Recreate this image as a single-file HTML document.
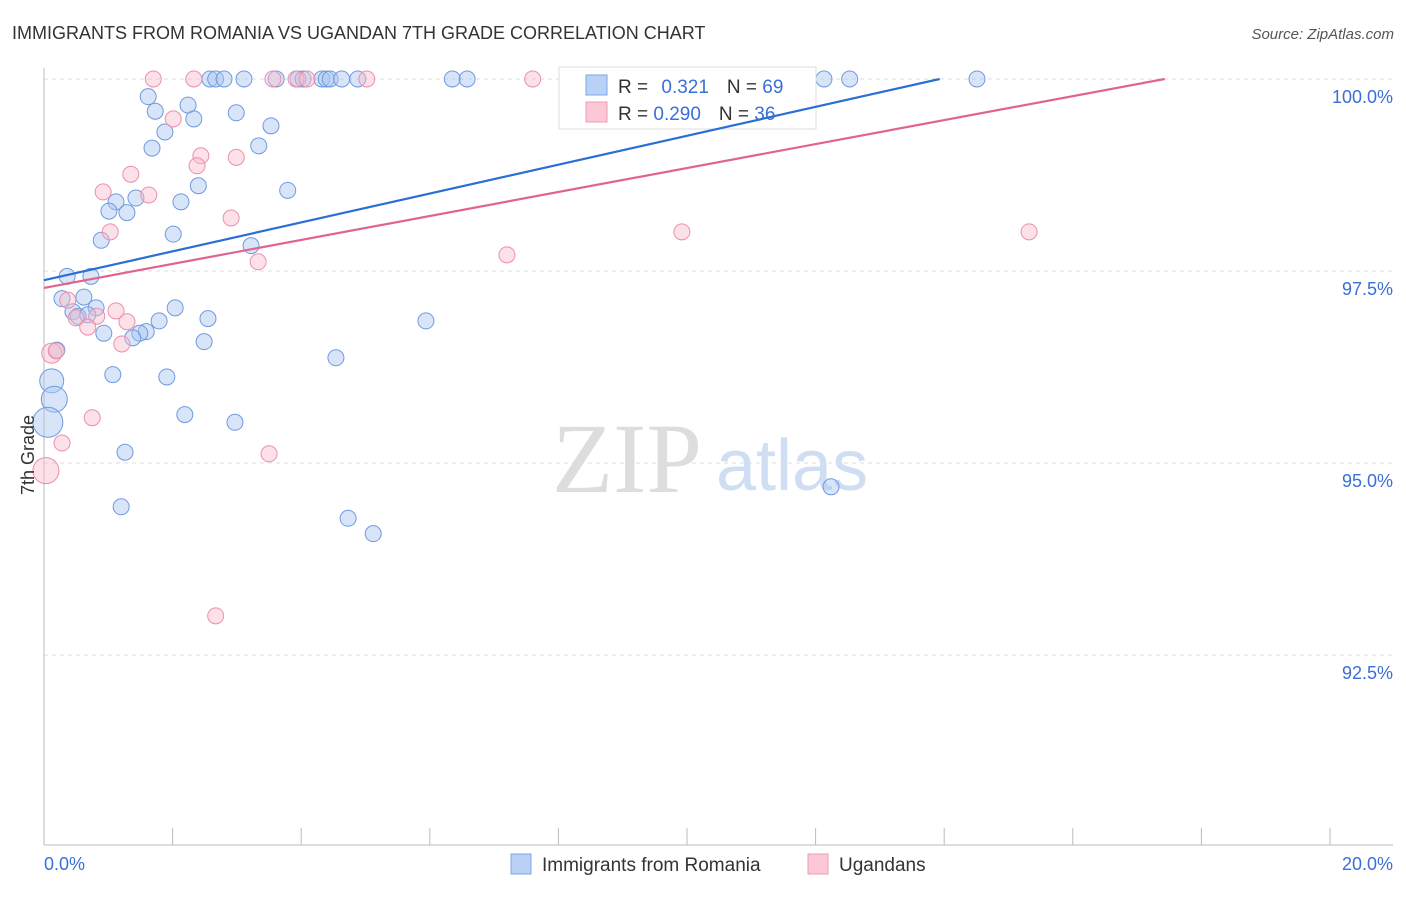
<!DOCTYPE html>
<html><head><meta charset="utf-8"><style>
body{margin:0;background:#fff;font-family:"Liberation Sans",sans-serif}
svg text{font-family:"Liberation Sans",sans-serif}
</style></head><body>
<svg id="chart" width="1406" height="892" xmlns="http://www.w3.org/2000/svg">
<text x="12" y="39" font-size="18" fill="#333">IMMIGRANTS FROM ROMANIA VS UGANDAN 7TH GRADE CORRELATION CHART</text>
<text x="1394" y="39" font-size="15" fill="#555" text-anchor="end" font-style="italic">Source: ZipAtlas.com</text>
<g><text x="552" y="492" font-size="100" fill="#ddd" style="font-family:'Liberation Serif',serif">ZIP</text><text x="716" y="490" font-size="72" fill="#d0def3">atlas</text></g>
<g id="grid"></g>
<g id="axes"></g>
<g id="pts"></g>
<text transform="translate(34,455) rotate(-90)" font-size="18" fill="#333" text-anchor="middle">7th Grade</text>
<g>
<rect x="559" y="67" width="257" height="62" fill="#fff" stroke="#ddd"/>
<rect x="586" y="75" width="21" height="20" fill="#b8d1f5" stroke="#7ea6e6"/>
<rect x="586" y="102" width="21" height="20" fill="#fcc8d6" stroke="#ef9ab3"/>
<text x="618" y="93" font-size="19" fill="#333">R = <tspan fill="#3a6fd8" dx="8">0.321</tspan><tspan fill="#333" dx="18">N = </tspan><tspan fill="#3a6fd8">69</tspan></text>
<text x="618" y="120" font-size="19" fill="#333">R = <tspan fill="#3a6fd8">0.290</tspan><tspan fill="#333" dx="18">N = </tspan><tspan fill="#3a6fd8">36</tspan></text>
</g>
<g id="trend"></g>
<g>
<rect x="511" y="854" width="20" height="20" fill="#b8d1f5" stroke="#7ea6e6"/>
<text x="542" y="871" font-size="19" fill="#333">Immigrants from Romania</text>
<rect x="808" y="854" width="20" height="20" fill="#fcc8d6" stroke="#ef9ab3"/>
<text x="839" y="871" font-size="19" fill="#333">Ugandans</text>
</g>
</svg>
<script>
const yTicks=[100,97.5,95,92.5];
const yTickLabels=["100.0%","97.5%","95.0%","92.5%"];
const xTickLabels=["0.0%","20.0%"];
const blueX=[2.58,2.67,2.80,3.11,3.61,3.95,4.03,4.32,4.39,4.45,4.63,4.88,6.35,6.58,9.11,12.13,12.53,14.51,1.62,2.24,1.73,2.99,2.33,3.53,1.88,1.68,3.34,2.40,3.79,1.43,1.12,2.13,1.01,1.29,2.01,0.89,3.22,0.36,0.73,0.28,0.62,0.81,2.04,0.45,0.53,0.68,2.55,1.79,5.94,0.93,1.59,1.49,1.38,2.49,0.20,4.54,1.07,1.91,0.12,0.16,2.19,2.97,0.06,1.26,12.24,1.20,4.73,5.12];
const blueY=[100,100,100,100,100,100,100,100,100,100,100,100,100,100,100,100,100,100,99.77,99.66,99.58,99.56,99.48,99.39,99.31,99.10,99.13,98.61,98.55,98.45,98.40,98.40,98.28,98.26,97.98,97.90,97.83,97.43,97.43,97.14,97.16,97.02,97.02,96.97,96.91,96.93,96.88,96.85,96.85,96.69,96.71,96.69,96.63,96.58,96.47,96.37,96.15,96.12,96.07,95.83,95.63,95.53,95.53,95.14,94.69,94.43,94.28,94.08];
const blueR=[8,8,8,8,8,8,8,8,8,8,8,8,8,8,8,8,8,8,8,8,8,8,8,8,8,8,8,8,8,8,8,8,8,8,8,8,8,8,8,8,8,8,8,8,8,8,8,8,8,8,8,8,8,8,8,8,8,8,12,13,8,8,15,8,8,8,8,8];
const pinkX=[1.70,2.33,3.56,3.92,4.09,5.02,7.60,2.01,2.44,2.99,2.38,1.35,0.92,1.63,2.91,1.03,9.92,15.32,3.33,7.20,0.37,1.12,0.50,0.82,1.29,0.68,1.21,0.12,0.19,0.75,0.28,3.50,0.03,2.67];
const pinkY=[100,100,100,100,100,100,100,99.48,99.00,98.98,98.87,98.76,98.53,98.49,98.19,98.01,98.01,98.01,97.62,97.71,97.12,96.98,96.89,96.91,96.84,96.77,96.55,96.43,96.46,95.59,95.26,95.12,94.90,93.01];
const pinkR=[8,8,8,8,8,8,8,8,8,8,8,8,8,8,8,8,8,8,8,8,8,8,8,8,8,8,8,10,8,8,8,8,13,8];
const blueTrend=[97.38,100];const blueTrendX=[0,13.93];
const pinkTrend=[97.28,100];const pinkTrendX=[0,17.43];
const NS="http://www.w3.org/2000/svg";
const xs=v=>44+v*64.3, ys=v=>79+(100-v)*76.8;
function mk(p,t,a){const e=document.createElementNS(NS,t);for(const k in a)e.setAttribute(k,a[k]);p.appendChild(e);return e;}
const grid=document.getElementById('grid'),axes=document.getElementById('axes');
yTicks.forEach((t,i)=>{
 const l=mk(grid,'line',{x1:44,x2:1393,y1:ys(t),y2:ys(t),stroke:'#ddd','stroke-dasharray':'4,4'});
 
 
 const tx=mk(axes,'text',{x:1393,y:ys(t)+24,'font-size':18,fill:'#3a6fd8','text-anchor':'end'});
 tx.textContent=yTickLabels[i];
 
 
});
mk(axes,'line',{x1:44,x2:44,y1:68,y2:845,stroke:'#bbb'});
mk(axes,'line',{x1:44,x2:1393,y1:845,y2:845,stroke:'#bbb'});
for(let i=0;i<=10;i++){const l=mk(axes,'line',{x1:xs(i*2),x2:xs(i*2),y1:828,y2:845,stroke:'#bbb'});
 
 }
[[0,'start',44],[20,'end',1393]].forEach((d,i)=>{const t=mk(axes,'text',{x:d[2],y:870,'font-size':18,fill:'#3a6fd8','text-anchor':d[1]});t.textContent=xTickLabels[i];
 
 });
const pts=document.getElementById('pts');
function series(X,Y,R,fill,stroke,name){X.forEach((x,i)=>{const c=mk(pts,'circle',{cx:xs(x),cy:ys(Y[i]),r:R[i],fill:fill,stroke:stroke,'fill-opacity':0.45,'stroke-width':1});
 
 });}
series(blueX,blueY,blueR,'#a9c6f0','#6f9ae0','point-romania');
series(pinkX,pinkY,pinkR,'#f9bccd','#ec8fac','point-ugandans');
const tr=document.getElementById('trend');
const b=mk(tr,'line',{x1:xs(blueTrendX[0]),y1:ys(blueTrend[0]),x2:xs(blueTrendX[1]),y2:ys(blueTrend[1]),stroke:'#2a6fd6','stroke-width':2.2});


const p=mk(tr,'line',{x1:xs(pinkTrendX[0]),y1:ys(pinkTrend[0]),x2:xs(pinkTrendX[1]),y2:ys(pinkTrend[1]),stroke:'#e0648e','stroke-width':2.2});


</script>
</body></html>
